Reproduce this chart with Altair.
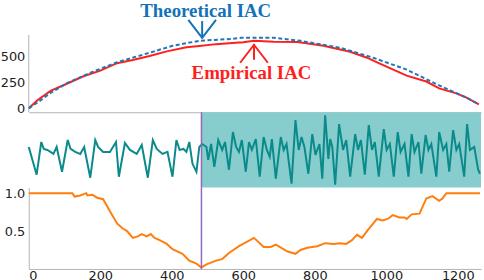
import altair as alt
import pandas as pd

# ---------------- data ----------------
x_max = 1265
change_point = 483
x_ticks = [0, 200, 400, 600, 800, 1000, 1200]
iac_ticks = [0, 250, 500]
score_ticks = [0.5, 1.0]

theo_x = [0, 30, 61, 108, 180, 247, 338, 402, 477, 569, 594, 640, 685, 760, 871, 963, 1057, 1148, 1223, 1259]
theo_y = [0, 70, 150, 245, 355, 445, 537, 604, 652, 671, 681, 682, 681, 652, 585, 489, 374, 221, 105, 38]

emp_x = [0, 25, 61, 108, 153, 200, 247, 291, 338, 386, 441, 477, 524, 569, 600, 630, 685, 752, 824,
         899, 946, 982, 1057, 1112, 1148, 1196, 1223, 1259]
emp_y = [0, 80, 168, 240, 310, 364, 436, 466, 505, 550, 590, 602, 620, 630, 638, 652, 642, 640, 604,
         546, 489, 431, 316, 259, 192, 144, 105, 38]

ts_x = [0, 22, 35, 42, 52, 69, 78, 93, 109, 117, 130, 144, 155, 172, 186, 194, 208, 227, 244, 252,
        269, 283, 302, 316, 333, 347, 358, 374, 388, 402, 413, 422, 433, 441, 449, 458, 469, 477,
        485, 497, 502, 510, 519, 530, 541, 549, 560, 571, 580, 588, 596, 607, 616, 624, 635, 646,
        657, 666, 674, 680, 691, 705, 713, 721, 735, 746, 755, 763, 771, 782, 793, 802, 813, 821,
        829, 838, 843, 849, 857, 868, 879, 888, 899, 913, 921, 929, 940, 951, 960, 968, 979, 993,
        1001, 1010, 1021, 1032, 1040, 1051, 1062, 1071, 1079, 1090, 1098, 1110, 1118, 1126, 1140,
        1148, 1159, 1168, 1176, 1187, 1196, 1204, 1218, 1226, 1234, 1246, 1257, 1262]
ts_y = [41, 13, 46, 39, 38, 34, 41, 16, 48, 39, 36, 34, 41, 10, 48, 41, 36, 36, 46, 11,
        45, 38, 34, 43, 10, 48, 39, 34, 36, 11, 48, 38, 39, 36, 46, 24, 16, 41,
        44, 41, 28, 44, 21, 48, 38, 46, 18, 56, 41, 36, 48, 16, 46, 38, 49, 11,
        51, 38, 31, 49, 9, 51, 38, 44, 4, 68, 38, 51, 41, 14, 54, 33, 44, 9,
        73, 29, 49, 41, 3, 64, 38, 48, 11, 54, 38, 48, 13, 63, 38, 46, 11, 59,
        38, 44, 11, 56, 36, 44, 11, 54, 36, 46, 14, 53, 38, 44, 11,
        56, 38, 44, 16, 58, 38, 44, 11, 64, 38, 41, 18, 14]

score_x = [0, 122, 128, 144, 161, 164, 178, 191, 208, 227, 247, 261, 275, 291, 305, 316, 330, 341,
           352, 366, 386, 402, 430, 449, 469, 483, 497, 524, 541, 560, 588, 630, 657, 677, 691,
           724, 746, 760, 779, 807, 829, 852, 871, 888, 904, 918, 932, 946, 974, 990, 1004, 1018,
           1037, 1051, 1057, 1071, 1093, 1112, 1129, 1148, 1157, 1168, 1262]
score_y = [1.0, 1.0, 0.955, 0.97, 1.0, 0.97, 0.98, 0.94, 0.92, 0.76, 0.60, 0.54, 0.50, 0.41, 0.43,
           0.46, 0.43, 0.46, 0.41, 0.38, 0.33, 0.26, 0.20, 0.11, 0.07, 0.02, 0.06, 0.11, 0.13, 0.21,
           0.30, 0.41, 0.29, 0.29, 0.32, 0.23, 0.20, 0.25, 0.28, 0.30, 0.34, 0.33, 0.34, 0.33, 0.38,
           0.45, 0.41, 0.50, 0.66, 0.64, 0.66, 0.71, 0.68, 0.68, 0.66, 0.72, 0.73, 0.93, 0.96, 0.90,
           0.93, 1.0, 1.0]

# annotation anchors (data units)
theo_label = {"x": 495, "y": 882, "text": "Theoretical IAC"}
emp_label = {"x": 623, "y": 288, "text": "Empirical IAC"}
theo_arrow = {"x": 485, "y": 843, "y2": 684, "tip": 681}
emp_arrow = {"x": 630, "y": 470, "y2": 616, "tip": 614}
top_axis_line = {"x": 0, "y": -38, "y2": 709}

GRAY = "#b3b3b3"
BLUE = "#1f77b4"
BLUE_TXT = "#1472b8"
RED = "#ff1f1f"
TEAL = "#0a8a8a"
SHADE = "#87cdcd"
PURPLE = "#9467bd"
ORANGE = "#ff7f0e"

W = 456
x_scale = alt.Scale(domain=[0, x_max], nice=False, zero=False)
top_scale = alt.Scale(domain=[-38, 1016], nice=False, zero=False)
mid_scale = alt.Scale(domain=[0, 76], nice=False, zero=False)
bot_scale = alt.Scale(domain=[0, 1.073], nice=False, zero=False)

lab = dict(labelFont="DejaVu Sans", labelFontSize=13, labelColor="#222222", grid=False, title=None)

# ---------------- top panel ----------------
theo_df = pd.DataFrame({"x": theo_x, "v": theo_y})
emp_df = pd.DataFrame({"x": emp_x, "v": emp_y})

x_top_axis = alt.Axis(labels=False, ticks=False, domain=True, domainColor=GRAY, grid=False, title=None)
y_top_axis = alt.Axis(values=iac_ticks, domain=False, ticks=False, labelPadding=4,
                      minExtent=28, maxExtent=28, **lab)

emp_line = alt.Chart(emp_df).mark_line(color=RED, strokeWidth=2).encode(
    x=alt.X("x:Q", scale=x_scale, axis=x_top_axis),
    y=alt.Y("v:Q", scale=top_scale, axis=y_top_axis),
)
theo_line = alt.Chart(theo_df).mark_line(color=BLUE, strokeWidth=2, strokeDash=[4, 2.5]).encode(
    x=alt.X("x:Q", scale=x_scale), y=alt.Y("v:Q", scale=top_scale)
)
axis_line = alt.Chart(pd.DataFrame([top_axis_line])).mark_rule(color=GRAY, strokeWidth=1).encode(
    x=alt.X("x:Q", scale=x_scale), y=alt.Y("y:Q", scale=top_scale), y2="y2:Q"
)
theo_txt = alt.Chart(pd.DataFrame([theo_label])).mark_text(
    font="Liberation Serif", fontWeight="bold", fontSize=19, color=BLUE_TXT,
    align="center", baseline="alphabetic"
).encode(x=alt.X("x:Q", scale=x_scale), y=alt.Y("y:Q", scale=top_scale), text="text:N")
emp_txt = alt.Chart(pd.DataFrame([emp_label])).mark_text(
    font="Liberation Serif", fontWeight="bold", fontSize=19, color=RED,
    align="center", baseline="alphabetic"
).encode(x=alt.X("x:Q", scale=x_scale), y=alt.Y("y:Q", scale=top_scale), text="text:N")

theo_shaft = alt.Chart(pd.DataFrame([theo_arrow])).mark_rule(color=BLUE_TXT, strokeWidth=2).encode(
    x=alt.X("x:Q", scale=x_scale), y=alt.Y("y:Q", scale=top_scale), y2="y2:Q"
)
theo_head = alt.Chart(pd.DataFrame([theo_arrow])).mark_point(
    shape="M-1,-1.3L0,0L1,-1.3", size=780, color=BLUE_TXT, strokeWidth=2, filled=False, opacity=1
).encode(x=alt.X("x:Q", scale=x_scale), y=alt.Y("tip:Q", scale=top_scale))
emp_shaft = alt.Chart(pd.DataFrame([emp_arrow])).mark_rule(color=RED, strokeWidth=2).encode(
    x=alt.X("x:Q", scale=x_scale), y=alt.Y("y:Q", scale=top_scale), y2="y2:Q"
)
emp_head = alt.Chart(pd.DataFrame([emp_arrow])).mark_point(
    shape="M-1,1.3L0,0L1,1.3", size=780, color=RED, strokeWidth=2, filled=False, opacity=1
).encode(x=alt.X("x:Q", scale=x_scale), y=alt.Y("tip:Q", scale=top_scale))

top = alt.layer(emp_line, axis_line, theo_line, theo_txt, emp_txt, theo_shaft, theo_head,
                emp_shaft, emp_head).properties(width=W, height=110)

# ---------------- middle panel ----------------
ts_df = pd.DataFrame({"x": ts_x, "v": ts_y})
seg_df = pd.DataFrame({"x": [change_point], "x2": [x_max]})
y_mid_axis = alt.Axis(values=[38], domain=False, ticks=False, labelColor="transparent",
                      minExtent=28, maxExtent=28, grid=False, title=None)

shade = alt.Chart(seg_df).mark_rect(color=SHADE, opacity=1).encode(
    x=alt.X("x:Q", scale=x_scale, axis=None), x2="x2:Q",
    y=alt.value(0), y2=alt.value(76)
)
ts_line = alt.Chart(ts_df).mark_line(color=TEAL, strokeWidth=2).encode(
    x=alt.X("x:Q", scale=x_scale, axis=None),
    y=alt.Y("v:Q", scale=mid_scale, axis=y_mid_axis),
)
cp_mid = alt.Chart(seg_df).mark_rule(color=PURPLE, strokeWidth=1.5).encode(
    x=alt.X("x:Q", scale=x_scale), y=alt.value(0), y2=alt.value(76)
)
mid = alt.layer(shade, ts_line, cp_mid).properties(width=W, height=76)

# ---------------- bottom panel ----------------
sc_df = pd.DataFrame({"x": score_x, "v": score_y})
x_bot_axis = alt.Axis(values=x_ticks, format="d", ticks=False, domain=True, domainColor=GRAY,
                      labelPadding=1, **lab)
y_bot_axis = alt.Axis(values=score_ticks, format=".1f", domain=True, domainColor=GRAY, ticks=False,
                      labelPadding=4, minExtent=28, maxExtent=28, **lab)
sc_line = alt.Chart(sc_df).mark_line(color=ORANGE, strokeWidth=2).encode(
    x=alt.X("x:Q", scale=x_scale, axis=x_bot_axis),
    y=alt.Y("v:Q", scale=bot_scale, axis=y_bot_axis),
)
cp_bot = alt.Chart(seg_df).mark_rule(color=PURPLE, strokeWidth=1.5).encode(
    x=alt.X("x:Q", scale=x_scale), y=alt.value(0), y2=alt.value(82)
)
bot = alt.layer(sc_line, cp_bot).properties(width=W, height=82)

chart = alt.vconcat(top, mid, bot, spacing=0, bounds="flush").properties(
    padding=0, background="white"
).configure_view(stroke=None)

chart.save("out.html", embed_options={"renderer": "svg", "actions": False})
